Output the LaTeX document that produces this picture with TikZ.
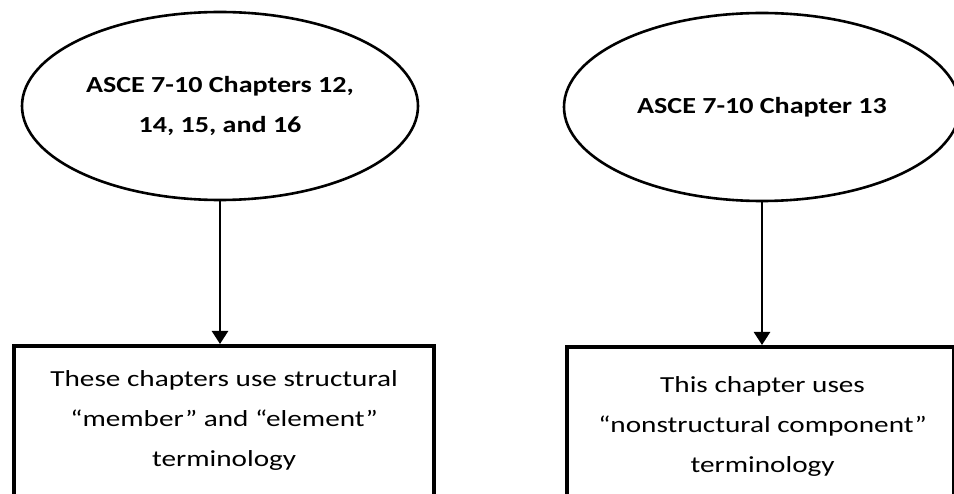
\documentclass[tikz,border=0pt]{standalone}
\usepackage{fontspec}
\setmainfont{Carlito}
\newfontfamily\chapfont{Carlito Bold}[FakeStretch=1.22]
\newfontfamily\termfont{Carlito}[FakeStretch=1.27]
\usetikzlibrary{shapes.geometric,arrows.meta,calc}
\begin{document}
\begin{tikzpicture}[x=1pt,y=-1pt,
  chapter/.style={ellipse,draw,line width=2.6pt,minimum width=396pt,minimum height=188pt,
    inner sep=0pt,align=center,font=\chapfont\fontsize{23}{40}\selectfont},
  termbox/.style={rectangle,draw,line width=4.2pt,anchor=north west,inner sep=0pt},
  termtext/.style={anchor=north,align=center,inner sep=0pt,font=\termfont\fontsize{23}{40}\selectfont},
  link/.style={line width=2.4pt,-{Triangle[length=13pt,width=16pt]}}]
  \useasboundingbox (0,0) rectangle (954,494);
  \fill[white] (0,0) rectangle (954,494);

  % source chapters
  \node[chapter] (lell) at (220,106) {ASCE 7-10 Chapters 12,\\14, 15, and 16};
  \node[chapter] (rell) at (762,107) {ASCE 7-10 Chapter 13};

  % terminology boxes (running past the lower edge)
  \node[termbox,minimum width=420pt,minimum height=200pt] (lbox) at (12,344) {};
  \node[termbox,minimum width=387pt,minimum height=200pt] (rbox) at (565,345) {};

  \node[termtext] (ltxt) at ($(lbox.north)+(0,26)$)
    {These chapters use structural\\“member” and “element”\\terminology};
  \node[termtext] (rtxt) at ($(rbox.north)+(2,31)$)
    {This chapter uses\\“nonstructural component”\\terminology};

  % connectors
  \draw[link] (lell.south) -- (lell.south |- lbox.north);
  \draw[link] (rell.south) -- (rell.south |- rbox.north);
\end{tikzpicture}
\end{document}
